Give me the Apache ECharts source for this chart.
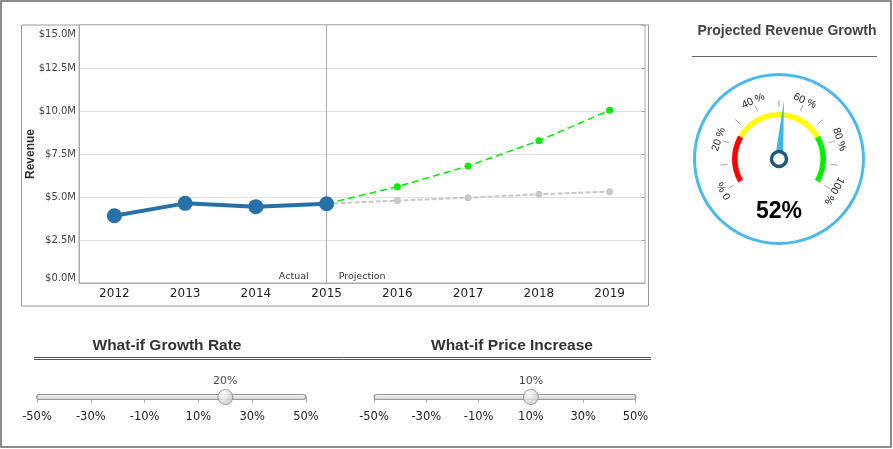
<!DOCTYPE html>
<html>
<head>
<meta charset="utf-8">
<script src="https://cdn.jsdelivr.net/npm/echarts@6/dist/echarts.min.js"></script>
<style>
  html, body { margin: 0; padding: 0; background: #fff; }
  #chart { width: 893px; height: 449px; }
</style>
</head>
<body>
<div id="chart"></div>
<script>
// ---- data ----
const years = ['2012', '2013', '2014', '2015', '2016', '2017', '2018', '2019'];
const actualRevenue = [3.91, 4.63, 4.44, 4.61, null, null, null, null];
const whatIfProjection = [null, null, null, 4.61, 5.60, 6.80, 8.27, 10.04];
const baselineProjection = [null, null, null, 4.61, 4.79, 4.96, 5.16, 5.31];
const gaugeValue = [52];
const gaugeBands = [[0.25, '#ff0000'], [0.75, '#ffff00'], [1, '#00ee00']];
const sliderTicks = [-50, -30, -10, 10, 30, 50];
const growthRate = [20];
const priceIncrease = [10];

const FONT = 'DejaVu Sans';
const chart = echarts.init(document.getElementById('chart'), null, { renderer: 'canvas' });

const sliderAxis = (gridIndex) => ({
  type: 'value', gridIndex, min: -50, max: 50,
  axisLine: { show: false },
  splitLine: { show: false },
  axisTick: { show: true, customValues: sliderTicks, length: 6, lineStyle: { color: '#aaa' } },
  axisLabel: { customValues: sliderTicks, formatter: v => v + '%', margin: 14,
    fontFamily: FONT, fontSize: 11.5, color: '#222' }
});
const sliderY = (gridIndex) => ({ type: 'value', gridIndex, min: 0, max: 1, show: false });
const thumb = (xi, data) => ({
  type: 'scatter', xAxisIndex: xi, yAxisIndex: xi, z: 10,
  data: data.map(v => [v, 0]),
  symbolSize: 15,
  itemStyle: {
    color: new echarts.graphic.RadialGradient(0.4, 0.35, 0.7, [
      { offset: 0, color: '#ffffff' }, { offset: 1, color: '#c4c4c4' }]),
    borderColor: '#888', borderWidth: 1
  },
  label: { show: true, position: 'top', distance: 2, formatter: p => p.value[0] + '%',
    fontFamily: FONT, fontSize: 11, color: '#111' },
  silent: true
});

const option = {
  animation: false,
  backgroundColor: '#fff',
  grid: [
    { left: 79, top: 25, width: 566, height: 258, show: true, borderColor: '#aaa', borderWidth: 1, backgroundColor: 'transparent' },
    { left: 37, top: 392, width: 269, height: 5 },
    { left: 374, top: 392, width: 261.5, height: 5 }
  ],
  xAxis: [
    { type: 'category', gridIndex: 0, data: years, boundaryGap: true,
      axisLine: { lineStyle: { color: '#aaa' } },
      axisTick: { alignWithLabel: true, inside: true, length: 4, lineStyle: { color: '#aaa' } },
      axisLabel: { fontFamily: FONT, fontSize: 12, color: '#222', margin: 5 } },
    { type: 'category', gridIndex: 0, data: years, position: 'top', boundaryGap: true,
      axisLine: { show: false },
      axisTick: { alignWithLabel: true, inside: true, length: 4, lineStyle: { color: '#aaa' } },
      axisLabel: { show: false } },
    sliderAxis(1),
    sliderAxis(2)
  ],
  yAxis: [
    { type: 'value', gridIndex: 0, min: 0, max: 15, interval: 2.5,
      name: 'Revenue', nameLocation: 'middle', nameGap: 42, nameRotate: 90, nameMoveOverlap: false,
      nameTextStyle: { fontFamily: 'Liberation Sans', fontSize: 12, fontWeight: 'bold', color: '#333' },
      axisLine: { show: true, lineStyle: { color: '#aaa' } },
      axisTick: { show: false },
      splitLine: { lineStyle: { color: '#e2e2e2' } },
      axisLabel: { fontFamily: FONT, fontSize: 10, color: '#444', margin: 3,
        formatter: v => (v === 15 ? '{t|$' + v.toFixed(1) + 'M}' : '$' + v.toFixed(1) + 'M'),
        rich: { t: { fontFamily: FONT, fontSize: 10, color: '#444', padding: [4, 0, 0, 0] } },
        verticalAlignMinLabel: 'bottom', verticalAlignMaxLabel: 'top' } },
    { type: 'value', gridIndex: 0, min: 0, max: 15, interval: 2.5, position: 'right',
      axisLine: { show: false }, splitLine: { show: false },
      axisTick: { show: true, inside: true, length: 4, lineStyle: { color: '#aaa' } },
      axisLabel: { show: false } },
    sliderY(1),
    sliderY(2)
  ],
  series: [
    { type: 'line', name: 'Baseline', xAxisIndex: 0, yAxisIndex: 0, data: baselineProjection,
      symbol: 'circle', symbolSize: 7, color: '#c8c8c8',
      lineStyle: { type: [5, 2], width: 2, color: '#c8c8c8' }, z: 2 },
    { type: 'line', name: 'What-if', xAxisIndex: 0, yAxisIndex: 0, data: whatIfProjection,
      symbol: 'circle', symbolSize: 7, color: '#00ee00',
      lineStyle: { type: [7, 4], width: 1.5, color: '#00ee00' }, z: 3 },
    { type: 'line', name: 'Actual', xAxisIndex: 0, yAxisIndex: 0, data: actualRevenue,
      symbol: 'circle', symbolSize: 15, color: '#2571a8',
      lineStyle: { width: 4, color: '#2571a8' }, z: 5,
      markLine: { silent: true, symbol: 'none', label: { show: false },
        lineStyle: { color: '#aaa', type: 'solid', width: 1 },
        data: [{ xAxis: '2015' }] } },
    thumb(2, growthRate),
    thumb(3, priceIncrease),
    // outer ring of gauge
    { type: 'gauge', center: [779, 159], radius: 86, startAngle: 90, endAngle: -270,
      axisLine: { lineStyle: { width: 3, color: [[1, '#4cb9ee']] } },
      axisTick: { show: false }, splitLine: { show: false }, axisLabel: { show: false },
      pointer: { show: false }, anchor: { show: false }, title: { show: false }, detail: { show: false },
      data: [] },
    // main gauge
    { type: 'gauge', center: [779, 159], radius: 47, startAngle: 210, endAngle: -30,
      min: 0, max: 100, splitNumber: 10,
      axisLine: { lineStyle: { width: 5.5, color: gaugeBands } },
      axisTick: { show: false },
      splitLine: { length: 7, distance: -17.5, lineStyle: { color: '#aaa', width: 1 } },
      axisLabel: { distance: -6, rotate: 'tangential', fontFamily: 'Liberation Sans', fontSize: 10.5, color: '#222',
        formatter: v => (Math.round(v) % 20 === 0 ? Math.round(v) + ' %' : '') },
      pointer: { show: true, icon: 'triangle', length: 59, width: 8, offsetCenter: [0, 0],
        itemStyle: { color: '#3db6ea' } },
      anchor: { show: true, showAbove: true, size: 15, icon: 'circle',
        itemStyle: { color: '#fff', borderColor: '#1d5b7b', borderWidth: 3.5 } },
      title: { show: false },
      detail: { show: true, offsetCenter: [0, 53], formatter: '{value}%',
        fontFamily: 'Liberation Sans', fontSize: 23, fontWeight: 'bold', color: '#000' },
      data: gaugeValue.map(v => ({ value: v })) }
  ],
  graphic: [
    { type: 'rect', shape: { x: 1, y: 1, width: 890, height: 446 }, style: { fill: 'none', stroke: '#666', lineWidth: 1.5 }, silent: true, z: -1 },
    { type: 'rect', shape: { x: 21.5, y: 25, width: 627, height: 281 }, style: { fill: 'none', stroke: '#999', lineWidth: 1 }, silent: true },
    { type: 'text', x: 787, y: 31, style: { text: 'Projected Revenue Growth', fontFamily: 'Liberation Sans', fontSize: 14, fontWeight: 'bold', fill: '#444', align: 'center', verticalAlign: 'middle' } },
    { type: 'line', shape: { x1: 692, y1: 56.5, x2: 877, y2: 56.5 }, style: { stroke: '#666', lineWidth: 1 } },
    { type: 'text', x: 167, y: 346, style: { text: 'What-if Growth Rate', fontFamily: 'Liberation Sans', fontSize: 15.5, fontWeight: 'bold', fill: '#333', align: 'center', verticalAlign: 'middle' } },
    { type: 'text', x: 512, y: 346, style: { text: 'What-if Price Increase', fontFamily: 'Liberation Sans', fontSize: 15.5, fontWeight: 'bold', fill: '#333', align: 'center', verticalAlign: 'middle' } },
    { type: 'line', shape: { x1: 34, y1: 357.5, x2: 651, y2: 357.5 }, style: { stroke: '#555', lineWidth: 1 } },
    { type: 'line', shape: { x1: 34, y1: 359.5, x2: 651, y2: 359.5 }, style: { stroke: '#555', lineWidth: 1 } },
    { type: 'rect', shape: { x: 36.5, y: 394.5, width: 269.5, height: 5, r: 2.5 },
      style: { fill: new echarts.graphic.LinearGradient(0, 0, 0, 1, [{ offset: 0, color: '#f5f5f5' }, { offset: 1, color: '#cfcfcf' }]), stroke: '#999', lineWidth: 1 }, z: 1 },
    { type: 'rect', shape: { x: 374, y: 394.5, width: 262, height: 5, r: 2.5 },
      style: { fill: new echarts.graphic.LinearGradient(0, 0, 0, 1, [{ offset: 0, color: '#f5f5f5' }, { offset: 1, color: '#cfcfcf' }]), stroke: '#999', lineWidth: 1 }, z: 1 }
  ]
};
chart.setOption(option);

// "Actual" / "Projection" labels on either side of the divider at 2015
const xDiv = chart.convertToPixel({ xAxisIndex: 0 }, '2015');
const yBase = chart.convertToPixel({ yAxisIndex: 0 }, 0);
chart.setOption({
  graphic: option.graphic.concat([
    { type: 'text', x: xDiv - 18, y: yBase - 6, style: { text: 'Actual', fontFamily: FONT, fontSize: 9.5, fill: '#333', align: 'right', verticalAlign: 'middle' } },
    { type: 'text', x: xDiv + 12, y: yBase - 6, style: { text: 'Projection', fontFamily: FONT, fontSize: 9.5, fill: '#333', align: 'left', verticalAlign: 'middle' } }
  ])
});
</script>
</body>
</html>
